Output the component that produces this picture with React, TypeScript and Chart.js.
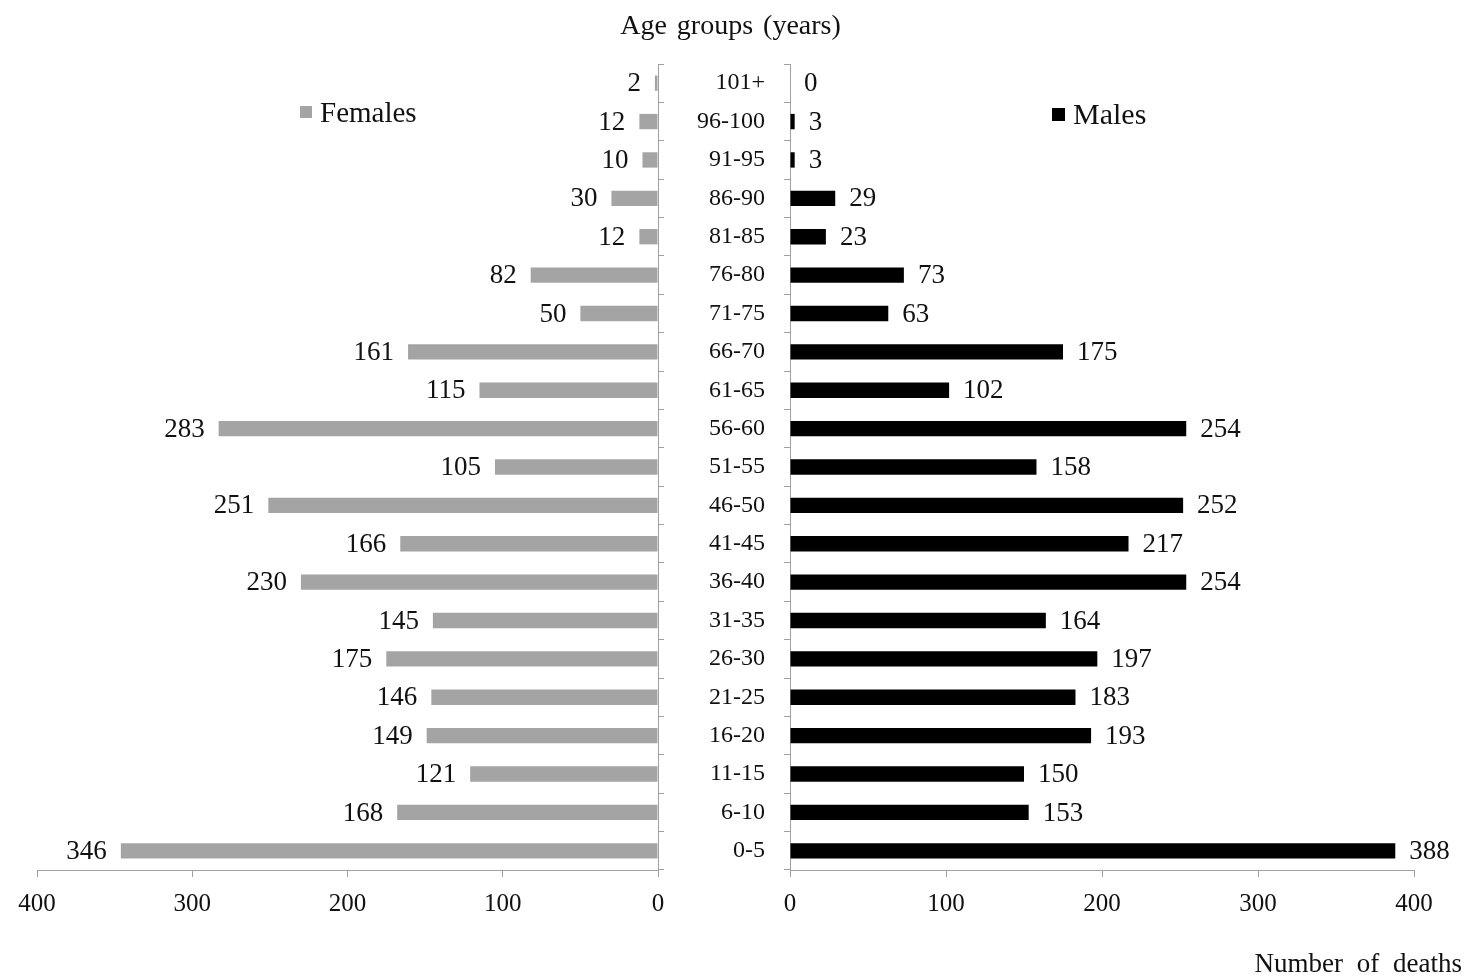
import React, { useEffect, useRef } from "react";
import { Chart, registerables } from "chart.js";

Chart.register(...registerables);

const ageGroups = [
  "101+", "96-100", "91-95", "86-90", "81-85", "76-80", "71-75", "66-70", "61-65", "56-60",
  "51-55", "46-50", "41-45", "36-40", "31-35", "26-30", "21-25", "16-20", "11-15", "6-10", "0-5",
];
const females = [2, 12, 10, 30, 12, 82, 50, 161, 115, 283, 105, 251, 166, 230, 145, 175, 146, 149, 121, 168, 346];
const males = [0, 3, 3, 29, 23, 73, 63, 175, 102, 254, 158, 252, 217, 254, 164, 197, 183, 193, 150, 153, 388];
const xTicks = [0, 100, 200, 300, 400];

const FONT = "'Liberation Serif', 'Times New Roman', serif";
const AXIS = "#a0a0a0";
const FEMALE_COLOR = "#a4a4a4";
const MALE_COLOR = "#000000";

const valueLabels = (side: "left" | "right") => ({
  id: "valueLabels" + side,
  afterDatasetsDraw(chart: any) {
    const ctx = chart.ctx;
    const meta = chart.getDatasetMeta(0);
    const data = chart.data.datasets[0].data as number[];
    ctx.save();
    ctx.font = `27px ${FONT}`;
    ctx.fillStyle = "#111";
    ctx.textBaseline = "middle";
    ctx.textAlign = side === "left" ? "right" : "left";
    meta.data.forEach((bar: any, i: number) => {
      const x = side === "left" ? bar.x - 14 : bar.x + 14;
      ctx.fillText(String(data[i]), x, bar.y + 1);
    });
    ctx.restore();
  },
});

function makeOptions(side: "left" | "right"): any {
  const isLeft = side === "left";
  return {
    indexAxis: "y",
    responsive: false,
    animation: false,
    layout: {
      padding: isLeft
        ? { left: 37, right: 12, top: 64, bottom: 0 }
        : { left: 0, right: 55, top: 64, bottom: 0 },
    },
    plugins: { legend: { display: false }, tooltip: { enabled: false }, title: { display: false } },
    scales: {
      x: {
        type: "linear",
        reverse: isLeft,
        min: 0,
        max: 400,
        afterBuildTicks: (scale: any) => {
          scale.ticks = xTicks.map((v) => ({ value: v }));
        },
        afterFit: (scale: any) => {
          scale.height = 109;
        },
        grid: { drawOnChartArea: false, drawTicks: true, tickLength: 7, color: AXIS },
        border: { color: AXIS, width: 1 },
        ticks: { font: { family: FONT, size: 25 }, color: "#111", padding: 12, maxRotation: 0 },
      },
      y: {
        type: "category",
        position: isLeft ? "right" : "left",
        offset: true,
        afterFit: (scale: any) => {
          scale.width = isLeft ? 10 : 110;
        },
        grid: { offset: true, drawOnChartArea: false, drawTicks: true, tickLength: 6, color: AXIS },
        border: { color: AXIS, width: 1 },
        ticks: {
          display: !isLeft,
          font: { family: FONT, size: 24 },
          color: "#111",
          padding: 19,
          autoSkip: false,
        },
      },
    },
  };
}

function Panel({ side, left, width }: { side: "left" | "right"; left: number; width: number }) {
  const ref = useRef<HTMLCanvasElement | null>(null);
  useEffect(() => {
    if (!ref.current) return;
    const isLeft = side === "left";
    const chart = new Chart(ref.current, {
      type: "bar",
      data: {
        labels: ageGroups,
        datasets: [
          {
            label: isLeft ? "Females" : "Males",
            data: isLeft ? females : males,
            backgroundColor: isLeft ? FEMALE_COLOR : MALE_COLOR,
            borderWidth: 0,
            barPercentage: 0.4,
            categoryPercentage: 1,
          },
        ],
      },
      options: makeOptions(side),
      plugins: [valueLabels(side)],
    } as any);
    return () => chart.destroy();
  }, [side]);
  return (
    <canvas
      ref={ref}
      width={width}
      height={979}
      style={{ position: "absolute", left, top: 0, width, height: 979 }}
    />
  );
}

export default function App() {
  const text: React.CSSProperties = {
    position: "absolute",
    fontFamily: FONT,
    fontSize: 26,
    color: "#111",
    whiteSpace: "nowrap",
    lineHeight: "30px",
  };
  return (
    <div style={{ position: "absolute", left: 0, top: 0, width: 1469, height: 979, background: "#fff", overflow: "hidden" }}>
      <Panel side="left" left={0} width={680} />
      <Panel side="right" left={680} width={789} />
      <div style={{ ...text, fontSize: 28, left: 0, width: 1461, top: 10, textAlign: "center", wordSpacing: 3 }}>Age groups (years)</div>
      <div style={{ ...text, fontSize: 27, right: 7, top: 948, wordSpacing: 7 }}>Number of deaths</div>
      <div style={{ ...text, fontSize: 29, left: 300, top: 97, display: "flex", alignItems: "center" }}>
        <span style={{ display: "inline-block", width: 12, height: 12, background: FEMALE_COLOR, marginRight: 8 }} />
        Females
      </div>
      <div style={{ ...text, fontSize: 30, left: 1052, top: 99, display: "flex", alignItems: "center" }}>
        <span style={{ display: "inline-block", width: 13, height: 13, background: MALE_COLOR, marginRight: 8 }} />
        Males
      </div>
    </div>
  );
}
